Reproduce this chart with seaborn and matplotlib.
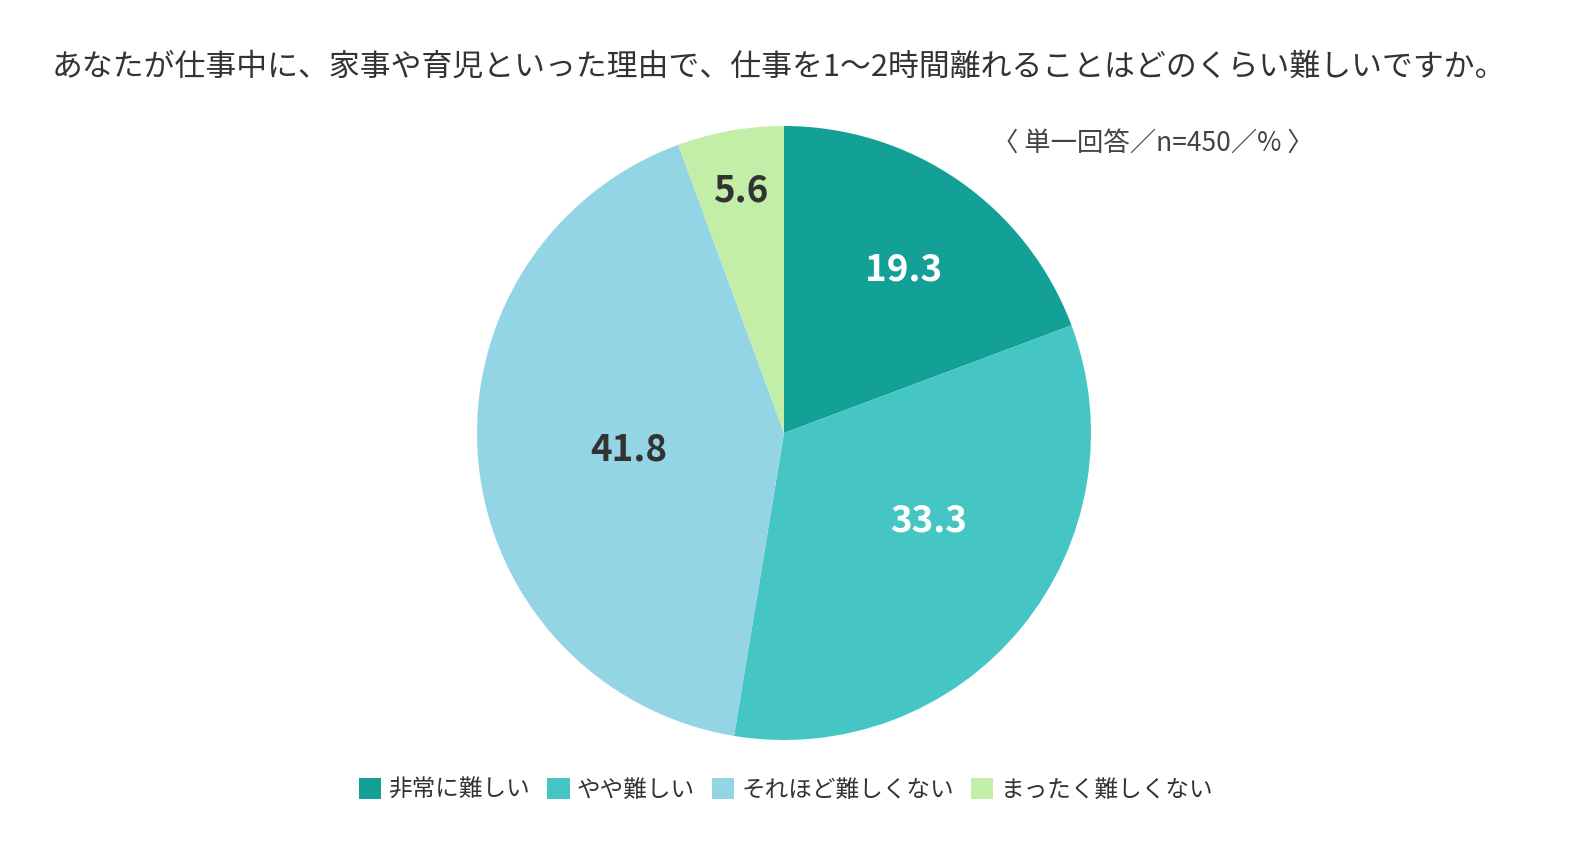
import numpy as np
import matplotlib
matplotlib.use("Agg")
import matplotlib.pyplot as plt
import seaborn as sns
from matplotlib.patches import Patch

sns.set_theme(style="white")
plt.rcParams['font.family'] = ['Noto Sans CJK JP', 'DejaVu Sans']

# data
categories = ["非常に難しい", "やや難しい", "それほど難しくない", "まったく難しくない"]
shares = [19.3, 33.3, 41.8, 5.6]
title = "あなたが仕事中に、家事や育児といった理由で、仕事を1〜2時間離れることはどのくらい難しいですか。"
note = "〈 単一回答／n=450／% 〉"

colors = sns.color_palette(["#13a096", "#45c6c5", "#93d4e5", "#c3eea7"])
label_colors = ["white", "white", "#333333", "#333333"]
# (radius fraction, angle offset in degrees) for value labels
label_pos = [(0.66, -1.5), (0.55, 8.0), (0.51, 0.8), (0.80, 0.0)]

W, H = 1580, 856
fig = plt.figure(figsize=(W / 100, H / 100), dpi=100)
fig.patch.set_facecolor("white")

cx, cy, r = 784, 433, 307
ax = fig.add_axes([(cx - r) / W, (H - cy - r) / H, 2 * r / W, 2 * r / H])
wedges, _ = ax.pie(shares, colors=colors, startangle=90, counterclock=False,
                   radius=1.0, wedgeprops=dict(linewidth=0))
ax.set_xlim(-1, 1)
ax.set_ylim(-1, 1)
ax.set_aspect("equal")
ax.axis("off")

for w, v, c, (rf, off) in zip(wedges, shares, label_colors, label_pos):
    ang = np.deg2rad((w.theta1 + w.theta2) / 2 + off)
    ax.text(rf * np.cos(ang), rf * np.sin(ang), f"{v:.1f}", ha="center", va="center",
            fontsize=26.5, fontweight="bold", color=c)

fig.text(52 / W, 1 - 67 / H, title, ha="left", va="center", fontsize=22.2, color="#333333")
fig.text(1153 / W, 1 - 143 / H, note, ha="center", va="center", fontsize=19, color="#444444")

handles = [Patch(facecolor=c, edgecolor="none") for c in colors]
fig.legend(handles, categories, loc="center", bbox_to_anchor=(786 / W, 1 - 790 / H),
           ncol=4, frameon=False, fontsize=17, handlelength=0.95, handleheight=0.95,
           handletextpad=0.3, columnspacing=0.72, labelcolor="#333333")

fig.savefig("out.png", dpi=100, facecolor="white")
